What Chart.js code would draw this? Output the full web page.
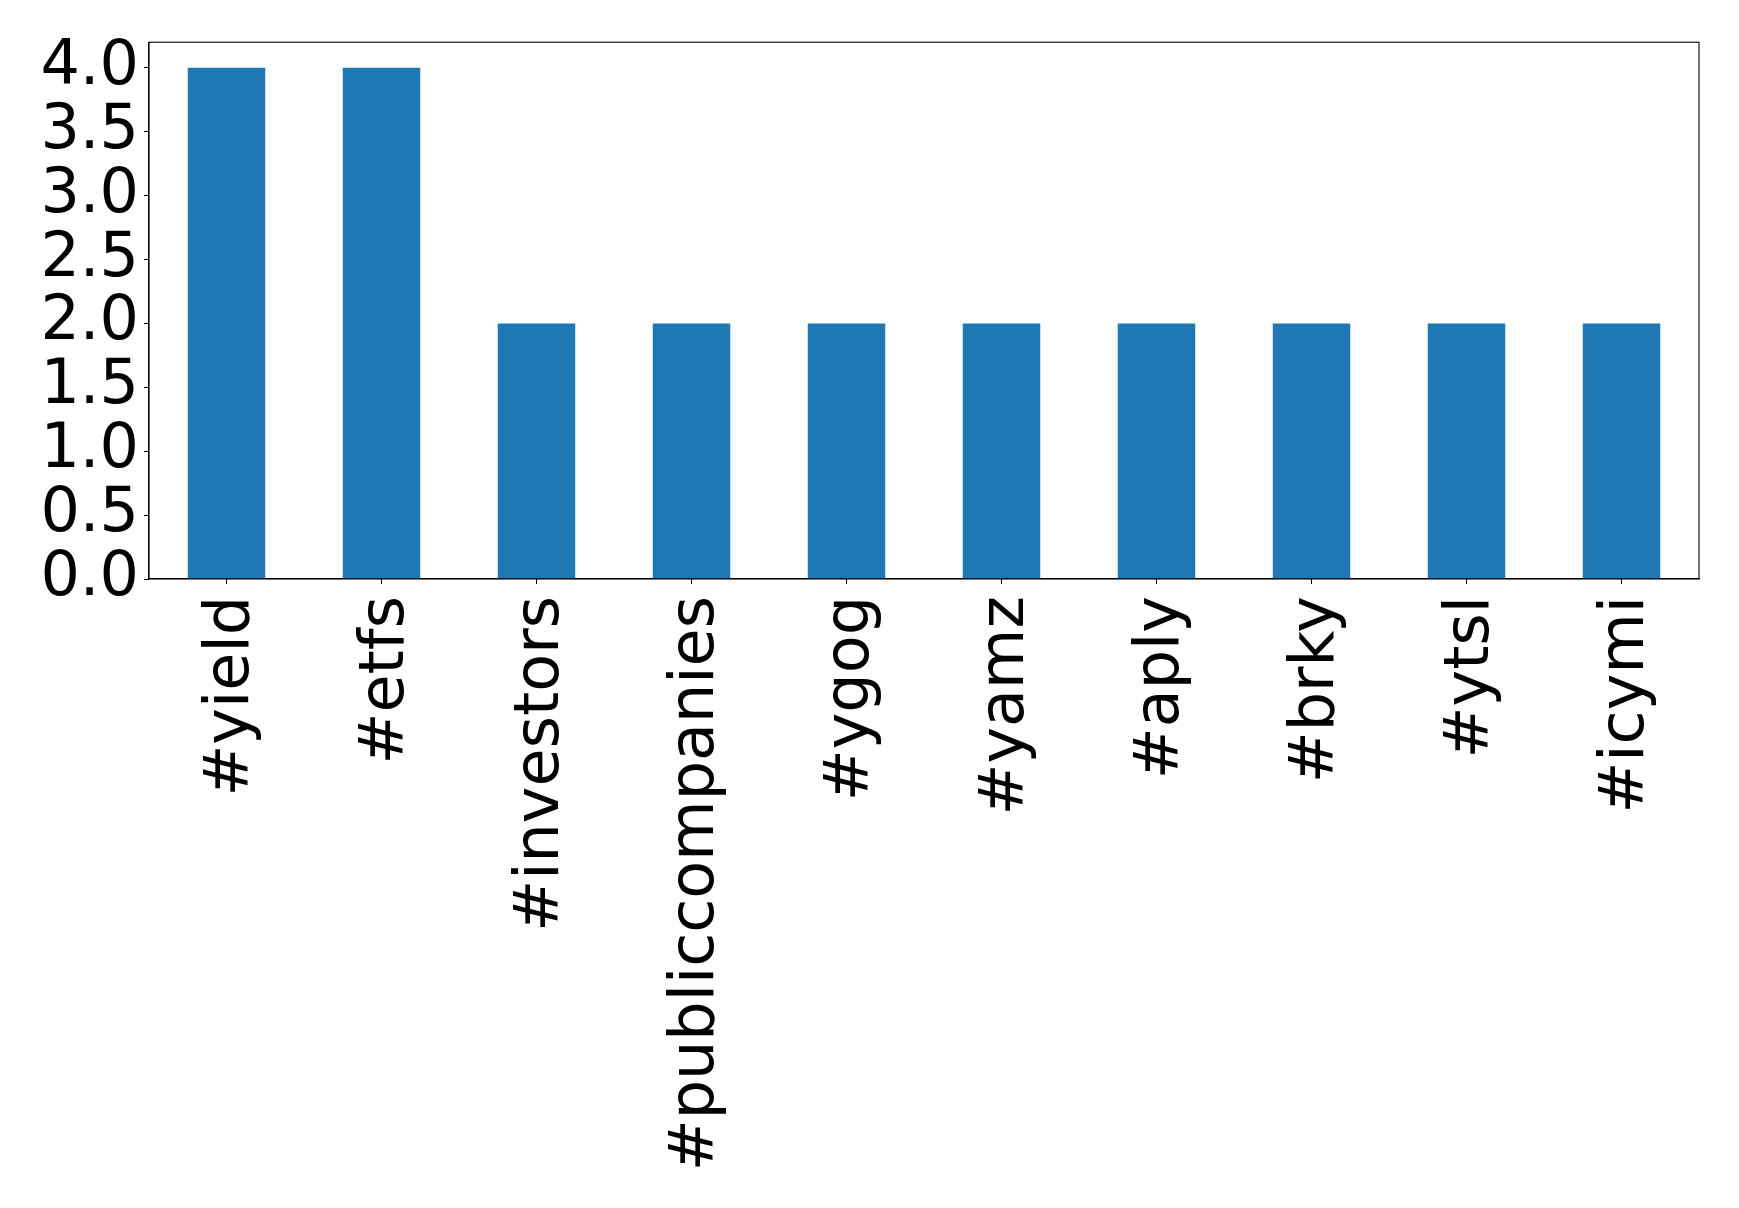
<!DOCTYPE html>
<html>
<head>
<meta charset="utf-8">
<script src="https://cdn.jsdelivr.net/npm/chart.js@4"></script>
<style>
html,body{margin:0;padding:0;background:#fff;}
canvas{display:block;}
</style>
</head>
<body>
<canvas id="c" width="1739" height="1208"></canvas>
<script>
const categories = ["#yield","#etfs","#investors","#publiccompanies","#ygog","#yamz","#aply","#brky","#ytsl","#icymi"];
const counts = [4,4,2,2,2,2,2,2,2,2];
const yTicks = [0,0.5,1.0,1.5,2.0,2.5,3.0,3.5,4.0];

const FONT = {family: "'DejaVu Sans'", size: 62};

const frame = {
  id: 'frame',
  afterDatasetsDraw(chart) {
    const a = chart.chartArea, ctx = chart.ctx;
    ctx.save();
    ctx.strokeStyle = '#000';
    ctx.lineWidth = 1.1;
    ctx.strokeRect(a.left, a.top, a.right - a.left, a.bottom - a.top);
    ctx.restore();
  }
};

new Chart(document.getElementById('c'), {
  type: 'bar',
  data: {
    labels: categories,
    datasets: [{
      data: counts,
      backgroundColor: '#1f77b4',
      borderWidth: 0,
      barPercentage: 0.5,
      categoryPercentage: 1.0
    }]
  },
  options: {
    responsive: false,
    animation: false,
    devicePixelRatio: 1,
    layout: {padding: {top: 40, right: 40, left: 0, bottom: 0}},
    plugins: {legend: {display: false}, tooltip: {enabled: false}},
    scales: {
      x: {
        offset: true,
        grid: {display: true, offset: false, drawOnChartArea: false, drawTicks: true, tickLength: 5, color: '#000', lineWidth: 1},
        border: {display: true, color: '#000', width: 1.1},
        ticks: {color: '#000', font: FONT, maxRotation: 90, minRotation: 90, padding: 12, labelOffset: 5, autoSkip: false},
        afterFit(scale) { scale.height = 629; }
      },
      y: {
        min: 0,
        max: 4.2,
        grid: {display: true, drawOnChartArea: false, drawTicks: true, tickLength: 5, color: '#000', lineWidth: 1},
        border: {display: true, color: '#000', width: 1.1},
        ticks: {color: '#000', font: FONT, padding: 5, autoSkip: false, callback: v => Number(v).toFixed(1)},
        afterBuildTicks(scale) { scale.ticks = yTicks.map(v => ({value: v})); },
        afterFit(scale) { scale.width = 149; }
      }
    }
  },
  plugins: [frame]
});
</script>
</body>
</html>
